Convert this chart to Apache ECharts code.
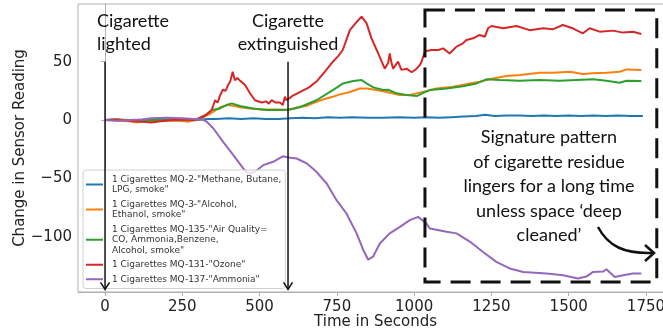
<!DOCTYPE html>
<html>
<head>
<meta charset="utf-8">
<script src="https://cdn.jsdelivr.net/npm/echarts@6/dist/echarts.min.js"></script>
<style>
  html, body { margin: 0; padding: 0; background: #fff; }
  #chart { width: 663px; height: 333px; }
</style>
</head>
<body>
<div id="chart"></div>
<script>
// sensor readings, [time in s, change]
const mq2 = [[0,0],[30,0.5],[60,-0.5],[100,0],[150,0.5],[200,0],[250,-0.5],[300,0],[330,1],[360,1],[400,1.5],[440,1],[480,1.5],[520,1],[560,1],[600,1.5],[640,2],[680,1.5],[720,2.5],[760,2],[800,2.5],[850,2],[900,2],[950,2.5],[1000,2],[1040,2.5],[1080,2],[1120,2.5],[1160,3],[1200,3.5],[1230,4.5],[1260,3.5],[1300,4],[1340,4],[1380,3.5],[1420,4],[1460,3.5],[1500,4],[1540,3.5],[1580,4],[1620,3.5],[1660,4],[1700,3.5],[1740,3.5]];
const mq3 = [[0,0],[40,-0.5],[80,-1],[100,-2],[130,-1],[160,-1],[200,-0.5],[240,-0.5],[270,-1.5],[290,0],[307,1],[330,4],[350,7],[372,11],[398,13],[420,12],[436,11],[469,10],[510,9],[540,9],[566,9],[587,8.6],[610,10],[630,11.4],[650,12],[684,15.7],[710,18],[737,20],[760,22],[792,24],[824,27],[846,27],[878,25.7],[911,24],[954,21.4],[986,21.4],[1018,23.5],[1072,27],[1126,28.6],[1180,31.4],[1212,32.9],[1255,35.7],[1299,37.7],[1342,38.6],[1406,40.6],[1449,40.6],[1503,41.4],[1546,39.4],[1578,40],[1622,40.6],[1665,41.4],[1687,43.4],[1735,42.9]];
const mq135 = [[0,0],[40,0.5],[80,0],[120,-0.5],[160,0],[200,0.5],[240,0],[280,0],[300,0.5],[320,3],[345,8.6],[372,10],[393,12.9],[410,14.3],[436,12],[479,10],[523,8.6],[566,8.6],[598,9],[630,11],[684,17],[737,25.7],[770,31.4],[803,33.4],[830,34.3],[846,31.4],[868,28],[900,25.7],[916,26],[943,22.9],[975,21.4],[1008,20.6],[1035,24],[1051,25.7],[1105,27],[1158,29],[1202,31.4],[1234,34.9],[1277,34.3],[1342,33.7],[1406,34.3],[1471,33.7],[1525,34.3],[1579,34.9],[1622,33.7],[1665,32],[1687,33.7],[1735,33.4]];
const mq131 = [[0,0],[40,0.5],[80,-0.5],[120,-1.5],[150,-2],[180,-1],[220,0],[260,0.5],[290,0],[307,2],[330,5],[345,8.6],[356,17],[364,15],[372,21],[381,26],[390,25],[398,30],[405,33],[413,41.4],[420,34],[428,36],[436,34],[453,30],[469,23],[485,17],[507,15],[522,16],[530,14],[539,17],[552,15],[566,15],[575,13],[582,20],[587,17],[598,19],[608,21],[630,24],[660,28],[684,33],[710,41],[737,50],[755,55],[769,60],[780,68],[792,77],[814,84],[830,88.6],[846,83],[862,70],[884,57],[905,44],[916,49],[921,57],[926,50],[932,44],[948,50],[959,43],[975,44],[992,41],[1008,44],[1018,47],[1024,50],[1035,59],[1056,60],[1078,60],[1094,61.4],[1115,57],[1137,62.9],[1158,65.7],[1169,68.6],[1191,70],[1212,72.9],[1229,71.4],[1239,78.6],[1250,80.6],[1288,78.6],[1331,80.6],[1374,77],[1417,78.6],[1448,77.7],[1481,81.4],[1513,78.6],[1546,74.3],[1568,78.6],[1600,75.7],[1643,76.6],[1676,74.9],[1708,75.7],[1735,73.7]];
const mq137 = [[0,0],[40,-0.5],[80,0],[120,0.5],[150,1.5],[200,2],[250,1.5],[290,1],[315,0.5],[329,-1.4],[350,-7],[382,-18.6],[415,-30],[447,-41.4],[463,-45.7],[485,-44.3],[512,-38.6],[544,-35.7],[576,-30.9],[593,-32],[620,-32.9],[652,-37],[684,-44.3],[717,-54.3],[749,-68.6],[781,-80],[814,-97],[835,-111],[851,-119.4],[867,-117],[889,-105.7],[921,-97],[954,-91.4],[986,-85.7],[1013,-82.9],[1040,-88.6],[1051,-92.9],[1105,-95.7],[1137,-97],[1180,-104],[1223,-112.9],[1266,-121.4],[1309,-127],[1353,-130],[1428,-131.4],[1482,-132.9],[1530,-135.7],[1557,-134],[1579,-130],[1611,-129.7],[1622,-127.7],[1649,-134.3],[1676,-132.9],[1708,-131.4],[1735,-131.4]];

const seriesNames = [
  '1 Cigarettes MQ-2-"Methane, Butane,\nLPG, smoke"',
  '1 Cigarettes MQ-3-"Alcohol,\nEthanol, smoke"',
  '1 Cigarettes MQ-135-"Air Quality=\nCO, Ammonia,Benzene,\nAlcohol, smoke"',
  '1 Cigarettes MQ-131-"Ozone"',
  '1 Cigarettes MQ-137-"Ammonia"'
];
const seriesData = [mq2, mq3, mq135, mq131, mq137];
const colors = ['#1f77b4', '#ff7f0e', '#2ca02c', '#d62728', '#9467bd'];

const xTicks = [0, 250, 500, 750, 1000, 1250, 1500, 1750];
const yTicks = [-100, -50, 0, 50];

// annotation positions (data units)
const lightedAt = 0;
const extinguishedAt = 592;
const arrowTop = 50, arrowBottom = -145;
const boxX = [1035, 1785], boxY = [94.3, -138.6];

const chart = echarts.init(document.getElementById('chart'));
// plain numbers, real minus sign, no thousands separator
const fmt = v => (v < 0 ? '\u2212' + Math.abs(v) : String(v));
const tickFont = { fontFamily: 'DejaVu Sans', fontSize: 15, color: '#222', formatter: fmt };
const nameFont = { fontFamily: 'DejaVu Sans', fontSize: 15, color: '#222' };

const option = {
  animation: false,
  color: colors,
  grid: {
    left: 78, right: -10, top: 4, bottom: 41,
    outerBoundsMode: 'none', containLabel: false,
    show: true, borderColor: '#b0b0b0', borderWidth: 1
  },
  legend: {
    orient: 'vertical',
    left: 83, top: 170,
    padding: [4, 4, 4, 3],
    itemGap: 4,
    itemWidth: 17, itemHeight: 2,
    icon: 'rect',
    selectedMode: false,
    backgroundColor: 'rgba(255,255,255,0.8)',
    borderColor: '#d0d0d0', borderWidth: 1, borderRadius: 3,
    textStyle: { fontFamily: 'DejaVu Sans', fontSize: 9, lineHeight: 10.5, color: '#333', padding: [0, 0, 0, 4] },
    data: seriesNames
  },
  xAxis: {
    type: 'value', min: -87.5, max: 1837.5,
    name: 'Time in Seconds', nameLocation: 'middle', nameGap: 23, nameMoveOverlap: false,
    nameTextStyle: nameFont,
    splitLine: { show: false },
    axisLine: { show: true, onZero: false, lineStyle: { color: '#b0b0b0' } },
    axisTick: { show: true, length: 4, customValues: xTicks, lineStyle: { color: '#b0b0b0' } },
    axisLabel: Object.assign({ customValues: xTicks, margin: 8, hideOverlap: false }, tickFont)
  },
  yAxis: {
    type: 'value', min: -147.2, max: 99.4,
    name: 'Change in Sensor Reading', nameLocation: 'middle', nameGap: 50, nameMoveOverlap: false,
    nameTextStyle: nameFont,
    splitLine: { show: false },
    axisLine: { show: true, lineStyle: { color: '#b0b0b0' } },
    axisTick: { show: true, length: 4, customValues: yTicks, lineStyle: { color: '#b0b0b0' } },
    axisLabel: Object.assign({ customValues: yTicks, margin: 6 }, tickFont)
  },
  series: seriesData.map((d, i) => ({
    name: seriesNames[i],
    type: 'line',
    data: d,
    showSymbol: false,
    lineStyle: { width: 2, color: colors[i] },
    itemStyle: { color: colors[i] }
  }))
};
chart.setOption(option);

// annotations on top, placed through the grid's coordinate system
const P = (x, y) => chart.convertToPixel({ gridIndex: 0 }, [x, y]);
const annFont = 'Lato';
const blk = '#111';

function downArrow(x) {
  const a = P(x, arrowTop), b = P(x, arrowBottom);
  return [
    { type: 'line', z: 100, shape: { x1: a[0], y1: a[1], x2: b[0], y2: b[1] }, style: { stroke: blk, lineWidth: 1.5 } },
    { type: 'polyline', z: 100, shape: { points: [[b[0] - 4.5, b[1] - 7], [b[0], b[1]], [b[0] + 4.5, b[1] - 7]] }, style: { stroke: blk, lineWidth: 1.5, fill: null } }
  ];
}

const b1 = P(boxX[0], boxY[0]), b2 = P(boxX[1], boxY[1]);
const graphics = [].concat(
  downArrow(lightedAt),
  downArrow(extinguishedAt),
  [
    { type: 'rect', z: 100, shape: { x: b1[0], y: b1[1], width: b2[0] - b1[0], height: b2[1] - b1[1] },
      style: { fill: null, stroke: blk, lineWidth: 3, lineDash: [20, 10] } },
    { type: 'text', z: 100, left: 97, top: 10,
      style: { text: 'Cigarette\nlighted', font: '18px ' + annFont, lineHeight: 23, fill: blk } },
    { type: 'text', z: 100, x: 288, y: 10,
      style: { text: 'Cigarette\nextinguished', font: '18px ' + annFont, lineHeight: 23, fill: blk, align: 'center' } },
    { type: 'text', z: 100, x: 549, y: 125,
      style: { text: 'Signature pattern\nof cigarette residue\nlingers for a long time\nunless space \u2018deep\ncleaned\u2019', font: '18px ' + annFont, lineHeight: 24.5, fill: blk, align: 'center' } },
    { type: 'bezierCurve', z: 100, shape: { x1: 598, y1: 227, cpx1: 608, cpy1: 246, cpx2: 624, cpy2: 254, x2: 653, y2: 253 },
      style: { stroke: blk, lineWidth: 2.5, fill: null } },
    { type: 'polyline', z: 100, shape: { points: [[645, 245], [654, 253], [645, 261]] },
      style: { stroke: blk, lineWidth: 2.5, fill: null } }
  ]
);
chart.setOption({ graphic: graphics });

window.addEventListener('resize', () => chart.resize());
</script>
</body>
</html>
